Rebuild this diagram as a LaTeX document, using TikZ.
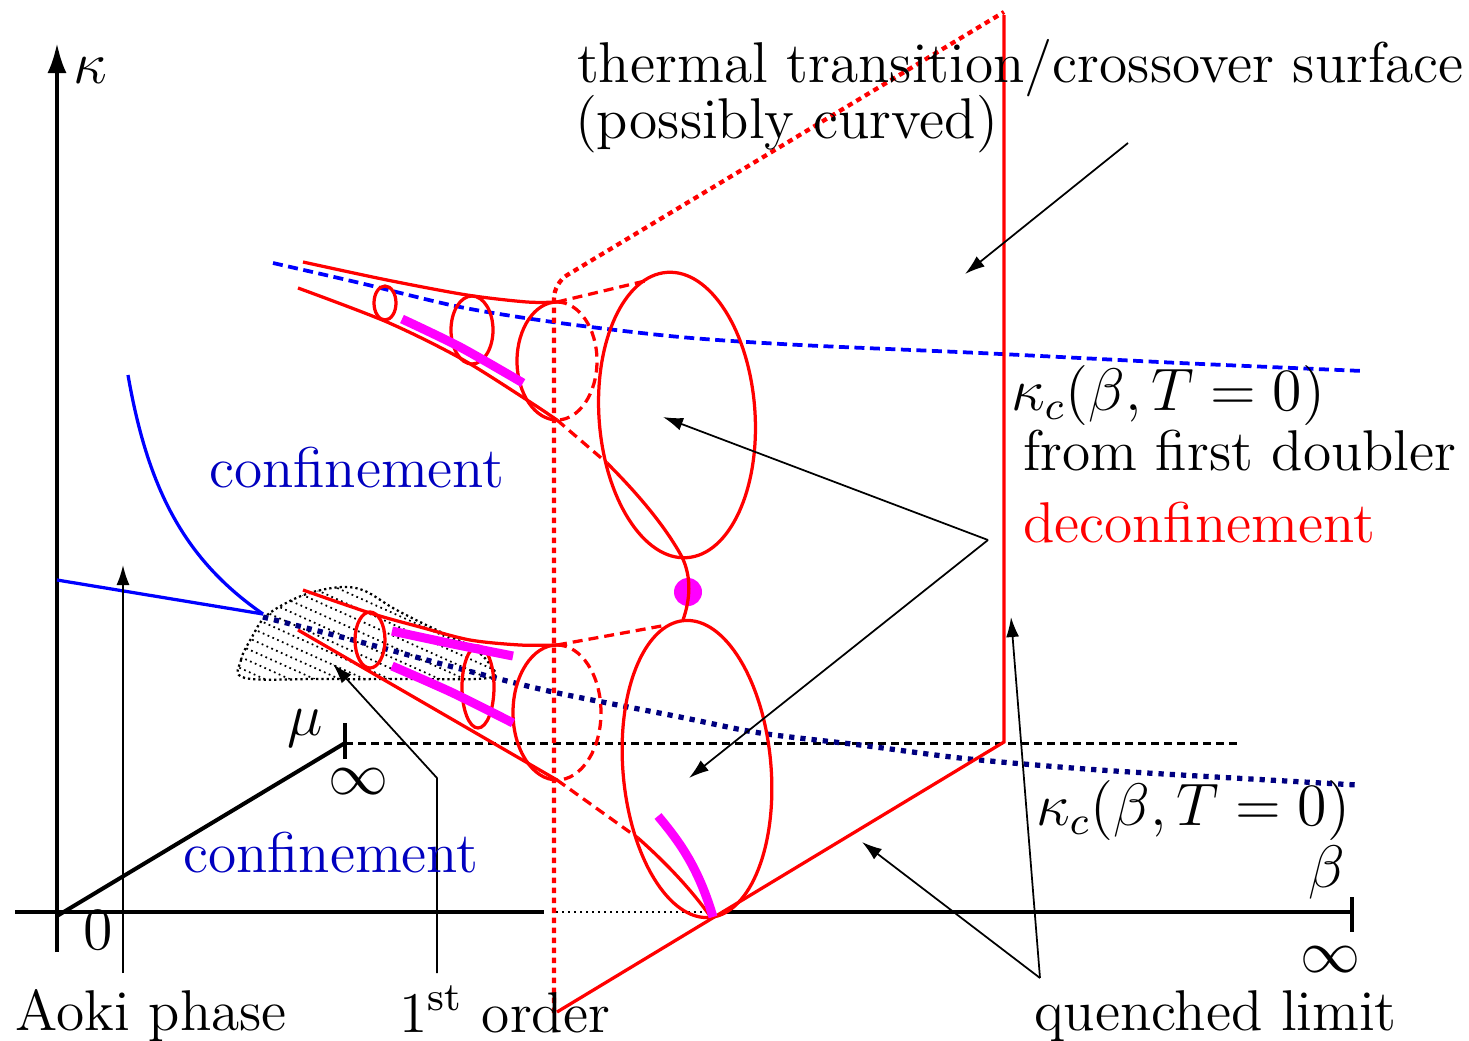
\documentclass[tikz,border=0pt]{standalone}
\usetikzlibrary{arrows.meta}
\definecolor{confblue}{rgb}{0,0,0.75}
\definecolor{navyblue}{rgb}{0,0,0.5}
\definecolor{magpure}{rgb}{1,0,1}
\begin{document}
\begin{tikzpicture}[x=0.2pt,y=-0.2pt,
  txt/.style={inner sep=0pt, font=\fontsize{11.5}{13.5}\selectfont},
  redl/.style={red, line width=0.65pt},
  reddash/.style={red, line width=0.65pt, dash pattern=on 2pt off 1.2pt},
  reddot/.style={red, line width=0.85pt, dash pattern=on 1.1pt off 0.9pt},
  axisline/.style={black, line width=0.8pt},
  thinarrow/.style={black, line width=0.35pt, -{Latex[length=4pt,width=2.6pt]}},
  mag/.style={magpure, line width=1.8pt},
  bluel/.style={blue, line width=0.65pt},
]
\useasboundingbox (0,0) rectangle (1469,1041);

% hatched blob (Aoki / first order region)
\begin{scope}
  \clip plot[smooth cycle, tension=0.6] coordinates {(245,678) (241,660) (252,637) (265,617) (288,602) (313,592) (343,587) (365,591) (393,608) (420,622) (447,635) (473,648) (490,665) (488,678) (400,679) (320,679)};
  \foreach \i in {-8,...,14} {
    \draw[black, line width=0.35pt, dash pattern=on 0.35pt off 0.7pt] (200+\i*25,560) -- ++(400,180);
  }
\end{scope}
\draw[black, line width=0.45pt, dash pattern=on 0.45pt off 0.6pt] plot[smooth cycle, tension=0.6] coordinates {(245,678) (241,660) (252,637) (265,617) (288,602) (313,592) (343,587) (365,591) (393,608) (420,622) (447,635) (473,648) (490,665) (488,678) (400,679) (320,679)};

% axes
\draw[axisline, -{Latex[length=6pt,width=3.8pt]}] (57,952) -- (57,43);
\draw[axisline] (15,912) -- (544,912);
\draw[black, line width=0.4pt, dash pattern=on 0.4pt off 0.8pt] (556,912) -- (712,912);
\draw[axisline] (722,912) -- (1352,912);
\draw[axisline] (1352,897) -- (1352,932);
\draw[axisline] (57,916) -- (345,743);
\draw[axisline] (345,723) -- (345,759);
\draw[black, line width=0.6pt, dash pattern=on 1.6pt off 1pt] (345,743) -- (1240,743);

\node[txt] (kap) at (90,71) {$\kappa$};
\node[txt] (zero) at (98,930) {$0$};
\node[txt] (mu) at (305,728) {$\mu$};
\node[txt] (infmu) at (358,782) {$\infty$};
\node[txt] (beta) at (1327,872) {$\beta$};
\node[txt] (infb) at (1330,960) {$\infty$};

% blue lines
\draw[bluel] (57,580) -- (263,614);
\draw[bluel] (128,375) .. controls (148,490) and (185,560) .. (263,614);
\draw[bluel, line width=0.75pt, dash pattern=on 2pt off 1.1pt] plot[smooth] coordinates {(273,263) (360,283) (460,307) (560,323) (680,337) (800,345) (980,353) (1180,363) (1363,371)};
\draw[navyblue, line width=1.05pt, dash pattern=on 1.05pt off 1.2pt] plot[smooth] coordinates {(263,617) (353,640) (453,667) (553,692) (680,717) (760,733) (860,745) (960,758) (1060,767) (1147,773) (1357,785)};

% red surfaces
\draw[reddot, rounded corners=3pt] (554,1013) -- (554,283) -- (1004,12);
\draw[redl] (1004,15) -- (1004,742) -- (557,1012);

% upper cone
\draw[redl] plot[smooth] coordinates {(303,262) (387,280) (467,295) (527,302) (557,302)};
\draw[redl] plot[smooth] coordinates {(298,288) (387,322) (460,358) (527,400) (557,420)};
\draw[redl] (557,302) arc[start angle=270, end angle=90, x radius=40, y radius=59];
\draw[reddash] (557,302) arc[start angle=-90, end angle=90, x radius=40, y radius=59];
\draw[redl] (385,303) ellipse[x radius=11, y radius=17];
\draw[redl] (472,330) ellipse[x radius=21, y radius=34];
\draw[mag] plot[smooth] coordinates {(402,319) (460,347) (523,383)};

% lower cone
\draw[redl] plot[smooth] coordinates {(303,590) (370,613) (420,627) (470,640) (520,645) (557,645)};
\draw[redl] (298,630) -- (557,780);
\draw[redl] (557,645) arc[start angle=270, end angle=90, x radius=44, y radius=67.5];
\draw[reddash] (557,645) arc[start angle=-90, end angle=90, x radius=44, y radius=67.5];
\draw[redl] (370,640) ellipse[x radius=15, y radius=28];
\draw[redl] (478,687) ellipse[x radius=16, y radius=41];
\draw[mag] plot[smooth] coordinates {(392,631) (453,644) (513,656)};
\draw[mag] plot[smooth] coordinates {(392,666) (453,693) (513,723)};

% big ellipses and connections
\draw[redl, rotate around={4:(677,415)}] (677,415) ellipse[x radius=78, y radius=143];
\draw[redl, rotate around={5:(697,769)}] (697,769) ellipse[x radius=74, y radius=149];
\draw[reddash] (557,302) -- (645,281);
\draw[reddash] (557,420) -- (607,463);
\draw[redl] (607,463) .. controls (635,491) and (664,524) .. (682,557);
\fill[magpure] (688,592) circle[radius=14];
\draw[redl] (682,557) .. controls (692,578) and (690,600) .. (683,620);
\draw[reddash] (557,645) -- (667,625);
\draw[reddash] (557,780) -- (638,838);
\draw[redl] (638,838) .. controls (665,862) and (690,888) .. (710,916);
\draw[mag] (658,816) .. controls (678,840) and (698,866) .. (713,917);

% annotation arrows
\coordinate (a1s) at (1128,143);
\coordinate (a1e) at (965,274);
\draw[thinarrow] (a1s) -- (a1e);
\coordinate (a2s) at (988,540);
\coordinate (a2e) at (663,417);
\coordinate (a3e) at (689,778);
\draw[thinarrow] (a2s) -- (a2e);
\draw[thinarrow] (a2s) -- (a3e);
\coordinate (q) at (1040,978);
\coordinate (q1) at (1011,617);
\coordinate (q2) at (862,842);
\draw[thinarrow] (q) -- (q1);
\draw[thinarrow] (q) -- (q2);
\coordinate (ao1) at (123,973);
\coordinate (ao2) at (123,565);
\draw[thinarrow] (ao1) -- (ao2);
\coordinate (fo1) at (437,973);
\coordinate (fo2) at (437,778);
\coordinate (fo3) at (333,664);
\draw[thinarrow] (fo1) -- (fo2) -- (fo3);

% texts
\node[txt, anchor=base west] (thermal) at (576,82) {thermal transition/crossover surface};
\node[txt, anchor=base west] (curved) at (574,138) {(possibly curved)};
\node[txt, anchor=base west] (kc1) at (1010,410) {$\kappa_c(\beta,T=0)$};
\node[txt, anchor=base west] (fdoub) at (1022,470) {from first doubler};
\node[txt, anchor=base west, text=red] (deconf) at (1022,542) {deconfinement};
\node[txt, anchor=base west, text=confblue] (conf1) at (208,487) {confinement};
\node[txt, anchor=base west, text=confblue] (conf2) at (182,872) {confinement};
\node[txt, anchor=base west] (kc2) at (1035,825) {$\kappa_c(\beta,T=0)$};
\node[txt, anchor=base west] (quench) at (1033,1030) {quenched limit};
\node[txt, anchor=base west] (aoki) at (15,1030) {Aoki phase};
\node[txt, anchor=base west] (first) at (398,1032) {1\textsuperscript{st} order};
\end{tikzpicture}
\end{document}
